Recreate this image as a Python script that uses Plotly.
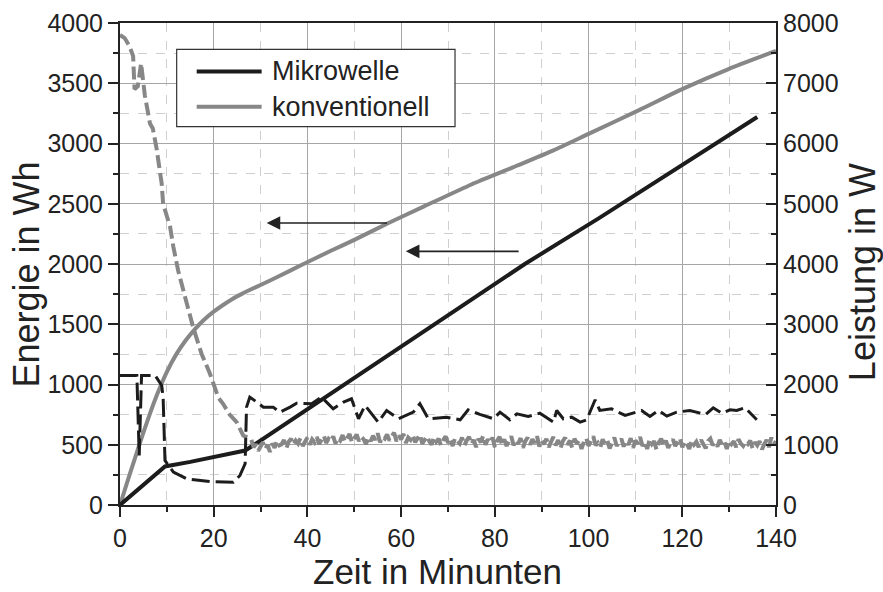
import plotly.graph_objects as go

# Energie (Wh) over time (min)
mw_energy_t = [0, 4.0, 9.6, 15.0, 20.0, 26.7, 28.4, 35.0, 41.3, 48.0, 60.0, 70.0,
               86.4, 102.4, 115.0, 127.0, 136.0]
mw_energy = [0, 135, 320, 358, 398, 452, 494, 665, 827, 1000, 1310, 1570,
             2000, 2385, 2700, 3000, 3220]

konv_energy_t = [0, 2, 4, 6, 8, 10, 12, 14, 16, 18, 20, 22, 24, 26, 28, 30, 34,
                 38.4, 45, 50, 57.3, 65, 75, 85, 92.5, 100, 111, 120.2, 130, 140]
konv_energy = [0, 245, 485, 715, 925, 1105, 1250, 1365, 1460, 1540, 1605, 1660,
               1710, 1752, 1790, 1826, 1900, 1985, 2110, 2200, 2340, 2480, 2660,
               2820, 2943, 3080, 3281, 3455, 3620, 3768]

# Leistung (W) over time (min)
mw_power_t = [0, 3.6, 4.1, 4.6, 7.5, 8.9, 9.2, 9.6, 11.4, 14.2, 19.2, 24.2, 25.6,
              26.7, 27.0, 27.7, 29.2, 30.6, 32.7, 34.1, 36.3, 37.7, 40.9, 43.0,
              45.5, 47.7, 49.4, 50.9, 52.3, 55.1, 56.9, 59.4, 62.6, 64.0, 65.8,
              69.7, 72.6, 74.3, 76.8, 79.7, 81.1, 83.2, 84.7, 87.1, 89.6, 92.5,
              93.2, 94.6, 96.4, 98.2, 99.6, 101.4, 102.4, 104.9, 107.8, 111.3,
              113.1, 114.9, 116.7, 118.8, 121.6, 125.0, 126.6, 128.4, 130.2,
              131.6, 133.4, 135.9]
mw_power = [2150, 2150, 822, 2150, 2150, 1984, 1790, 739, 545, 435, 390, 379, 490,
            684, 1624, 1790, 1707, 1624, 1624, 1541, 1624, 1690, 1680, 1790,
            1597, 1707, 1763, 1431, 1652, 1375, 1569, 1431, 1541, 1680, 1431,
            1458, 1414, 1580, 1503, 1431, 1541, 1414, 1514, 1469, 1524, 1375,
            1569, 1431, 1458, 1375, 1414, 1747, 1569, 1597, 1486, 1569,
            1469, 1569, 1475, 1541, 1569, 1503, 1614, 1524, 1580,
            1569, 1614, 1414]

konv_power_start_t = [0, 1, 2, 2.8, 3.1, 3.8, 4.5, 5.3, 6.4, 7.0, 7.8, 8.9, 9.2,
                      10.7, 11.4, 12.4, 13.9, 15.6, 17.4, 19.2, 21.0, 22.0, 23.4,
                      24.9, 26.3, 27.7]
konv_power_start = [7800, 7750, 7620, 7450, 6900, 6950, 7330, 6800, 6330, 6250,
                    5920, 5333, 5001, 4613, 4281, 3894, 3450, 2952, 2511, 2178,
                    1780, 1680, 1500, 1375, 1154, 1099]

# half-minute samples from 28 to 140 min
konv_power_steady = [
    1090, 960, 1010, 900, 980, 1040, 930, 1000, 880, 1020,
    950, 1060, 990, 1010, 1080, 940, 1050, 1100, 1000, 1070,
    1020, 1110, 980, 1060, 1120, 1000, 1090, 1040, 1130, 1010,
    1080, 1150, 1030, 1100, 1060, 1140, 1020, 1110, 1070, 1160,
    1050, 1120, 1180, 1040, 1100, 1170, 1060, 1130, 1090, 1010,
    1120, 1060, 1150, 1080, 1190, 1040, 1130, 1100, 1170, 1070,
    1140, 1200, 1060, 1150, 1090, 1180, 1030, 1120, 1080, 1160,
    1040, 1110, 1170, 1020, 1090, 1140, 1060, 1000, 1130, 1050,
    1100, 990, 1080, 1140, 1030, 1090, 980, 1110, 1060, 1020,
    1120, 990, 1070, 1130, 1010, 1080, 960, 1100, 1040, 1150,
    1000, 1090, 1030, 1120, 960, 1070, 1130, 1010, 1090, 980,
    1060, 1140, 990, 1080, 1020, 1110, 950, 1060, 1120, 1000,
    1090, 1030, 1140, 970, 1070, 1010, 1100, 960, 1050, 1130,
    990, 1080, 940, 1060, 1120, 1000, 1070, 950, 1100, 1020,
    1080, 930, 1050, 1110, 980, 1060, 1140, 990, 1030, 960,
    1090, 1010, 1070, 940, 1050, 1120, 980, 1040, 1100, 970,
    1060, 1000, 1110, 950, 1070, 1020, 1130, 980, 1050, 930,
    1080, 1010, 1060, 920, 1040, 1100, 990, 1070, 950, 1030,
    1090, 980, 1040, 1110, 960, 1060, 1010, 930, 1070, 1000,
    1050, 960, 1080, 1020, 940, 1060, 1100, 990, 1040, 970,
    1080, 1000, 1050, 930, 1070, 1010, 1060, 960, 1090, 1020,
    980, 1050, 1010, 1070, 940, 1040, 990, 1060, 920, 1010,
    1080, 960, 1120, 1000,
    1060,
]
konv_power_steady_t = [28 + 0.5 * i for i in range(len(konv_power_steady))]

x_ticks = [0, 20, 40, 60, 80, 100, 120, 140]
legend_names = ["Mikrowelle", "konventionell"]
axis_titles = {"x": "Zeit in Minunten", "y": "Energie in Wh", "y2": "Leistung in W"}

BLACK = "#1c1c1c"
GRAY = "#878787"
FONT = "Arial, Liberation Sans, sans-serif"

fig = go.Figure()

fig.add_trace(go.Scatter(
    x=konv_power_start_t + konv_power_steady_t,
    y=konv_power_start + konv_power_steady,
    yaxis="y2", mode="lines",
    line=dict(color=GRAY, width=4, dash="13px,5px"),
    showlegend=False))
fig.add_trace(go.Scatter(
    x=mw_power_t, y=mw_power, yaxis="y2", mode="lines",
    line=dict(color=BLACK, width=3, dash="18px,6px"),
    showlegend=False))
fig.add_trace(go.Scatter(
    x=konv_energy_t, y=konv_energy, mode="lines",
    line=dict(color=GRAY, width=4, shape="spline", smoothing=0.5),
    showlegend=False))
fig.add_trace(go.Scatter(
    x=mw_energy_t, y=mw_energy, mode="lines",
    line=dict(color=BLACK, width=4),
    showlegend=False))

axis_common = dict(
    showline=True, linewidth=2, linecolor="#222", automargin=False,
    tickwidth=2, tickcolor="#222", zeroline=False,
    tickfont=dict(family=FONT, size=25, color="#222"),
)

fig.update_layout(
    width=883, height=592,
    margin=dict(l=120, r=107, t=23, b=87),
    paper_bgcolor="white", plot_bgcolor="white",
    font=dict(family=FONT, color="#222"),
    showlegend=False,
    xaxis=dict(
        range=[0, 140], tickvals=x_ticks, mirror=True,
        ticks="outside", ticklen=10,
        showgrid=True, gridcolor="#a6a6a6", gridwidth=1,
        minor=dict(dtick=10, tick0=0, ticks="outside", ticklen=5, tickwidth=2,
                   tickcolor="#222", showgrid=True, gridcolor="#cfcfcf",
                   griddash="dash", gridwidth=1),
        **axis_common),
    yaxis=dict(
        range=[0, 4000], dtick=500, tick0=0,
        ticks="outside", ticklen=10,
        showgrid=True, gridcolor="#a6a6a6", gridwidth=1,
        minor=dict(dtick=250, tick0=0, ticks="outside", ticklen=5, tickwidth=2,
                   tickcolor="#222", showgrid=True, gridcolor="#cfcfcf",
                   griddash="dash", gridwidth=1),
        **axis_common),
    yaxis2=dict(
        range=[0, 8000], dtick=1000, tick0=0, overlaying="y", side="right",
        ticks="inside", ticklen=10, showgrid=False,
        minor=dict(dtick=500, tick0=0, ticks="inside", ticklen=5, tickwidth=2,
                   tickcolor="#222", showgrid=False),
        **axis_common),
)

# Axis titles
fig.add_annotation(x=0.484, y=-0.137, xref="paper", yref="paper",
                   text=axis_titles["x"], showarrow=False,
                   xanchor="center", yanchor="middle",
                   font=dict(family=FONT, size=35, color="#222"))
for key, xpos, ypos in [("y", -0.1418, 0.478), ("y2", 1.131, 0.483)]:
    fig.add_annotation(x=xpos, y=ypos, xref="paper", yref="paper",
                       text=axis_titles[key], textangle=-90, showarrow=False,
                       xanchor="center", yanchor="middle",
                       font=dict(family=FONT, size=36, color="#222"))

# Arrows pointing each energy curve to its (left) axis
for tip_x, tail_x, level in [(31.3, 57.3, 2340), (61.0, 85.4, 2105)]:
    fig.add_annotation(x=tip_x, y=level, ax=tail_x, ay=level,
                       xref="x", yref="y", axref="x", ayref="y",
                       text="", showarrow=True, arrowhead=2, arrowsize=1.7,
                       arrowwidth=1.6, arrowcolor="#222")

# Legend box with line samples
fig.add_shape(type="rect", xref="paper", yref="paper",
              x0=0.0864, x1=0.5107, y0=0.7849, y1=0.9454,
              line=dict(color="#333", width=1.2), fillcolor="white", layer="above")
for name, color, yy in [(legend_names[0], BLACK, 0.8994),
                        (legend_names[1], GRAY, 0.8263)]:
    fig.add_shape(type="line", xref="paper", yref="paper",
                  x0=0.1169, x1=0.2159, y0=yy, y1=yy,
                  line=dict(color=color, width=4), layer="above")
    fig.add_annotation(x=0.2287, y=yy, xref="paper", yref="paper",
                       text=name, showarrow=False, xanchor="left",
                       yanchor="middle",
                       font=dict(family=FONT, size=27, color="#222"))

fig.write_html("out.html")
